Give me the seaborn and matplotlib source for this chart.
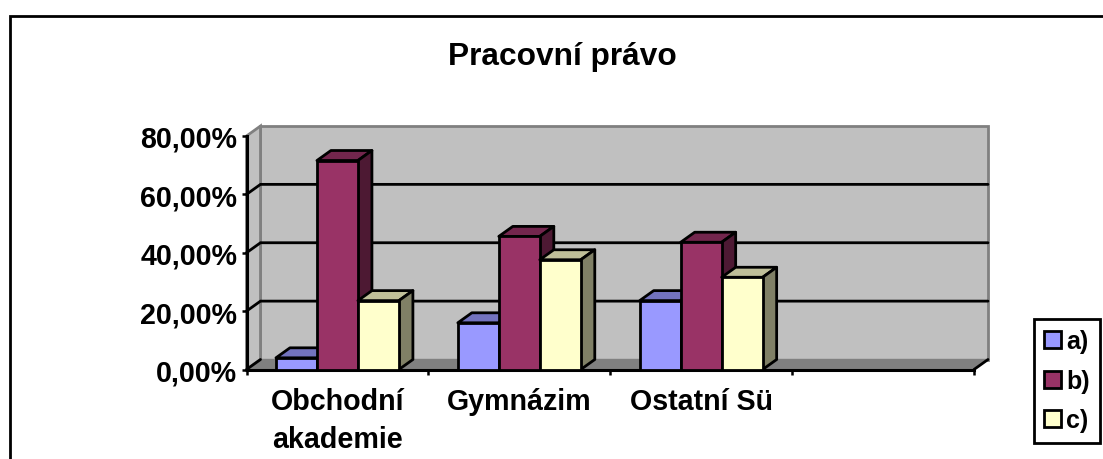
import matplotlib
matplotlib.use("Agg")
import matplotlib.pyplot as plt
from matplotlib.lines import Line2D
from matplotlib.patches import Polygon
import pandas as pd
import seaborn as sns

categories = ["Obchodní\nakademie", "Gymnázim", "Ostatní Sü", ""]
series = ["a)", "b)", "c)"]
values_a = [4.0, 16.0, 23.6, None]
values_b = [71.6, 45.6, 43.6, None]
values_c = [23.6, 37.6, 31.6, None]
colors = ["#9999FF", "#993366", "#FFFFCC"]
top_colors = ["#7373BF", "#73264D", "#BFBF99"]
side_colors = ["#4D4D80", "#4D1933", "#808066"]
y_ticks = [0, 20, 40, 60, 80]
y_labels = ["0,00%", "20,00%", "40,00%", "60,00%", "80,00%"]
title = "Pracovní právo"

W, H = 1103, 460
LW = 2.0
sns.set_theme(style="white")
plt.rcParams["font.family"] = ["Liberation Sans", "DejaVu Sans"]
plt.rcParams["font.weight"] = "bold"

rows = []
for s, vals in zip(series, [values_a, values_b, values_c]):
    for c, v in zip(categories, vals):
        rows.append({"cat": c, "series": s, "val": v})
df = pd.DataFrame(rows)

fig = plt.figure(figsize=(W / 100, H / 100), dpi=100, facecolor="white")
ax = fig.add_axes([246.5 / W, 1 - 370.5 / H, (974 - 246.5) / W, 233.5 / H])
ax.patch.set_alpha(0)

sns.barplot(data=df, x="cat", y="val", hue="series", order=categories, hue_order=series,
            palette=colors, width=0.676, gap=0, saturation=1, edgecolor="black",
            linewidth=LW, ax=ax, legend=True, errorbar=None)
ax.set_xlim(-0.5, 3.5)
ax.set_ylim(0, 80)
ax.set_xlabel("")
ax.set_ylabel("")

# depth of the 3D look, in data units
dx, dy = 14 / 182, 10 / 233.5 * 80
x0, x1 = -0.5, 3.5
y0, y1 = 0, 80

wall_edge = "#808080"
ax.add_patch(Polygon([(x0 + dx, y0 + dy), (x1 + dx, y0 + dy), (x1 + dx, y1 + dy), (x0 + dx, y1 + dy)],
                     fc="#C0C0C0", ec=wall_edge, lw=LW, clip_on=False, zorder=0.2))
ax.add_patch(Polygon([(x0, y0), (x0 + dx, y0 + dy), (x0 + dx, y1 + dy), (x0, y1)],
                     fc="#C0C0C0", ec=wall_edge, lw=LW, clip_on=False, zorder=0.3))
ax.add_patch(Polygon([(x0, y0), (x1, y0), (x1 + dx, y0 + dy), (x0 + dx, y0 + dy)],
                     fc="#808080", ec=wall_edge, lw=1, clip_on=False, zorder=0.3))
for t in y_ticks[1:-1]:
    ax.plot([x0, x0 + dx, x1 + dx], [t, t + dy, t + dy], color="black", lw=LW,
            clip_on=False, zorder=0.5, solid_joinstyle="miter")
ax.plot([x0, x0 + dx], [y0, y0 + dy], color="black", lw=LW, clip_on=False, zorder=0.5)
ax.plot([x1, x1 + dx], [y0, y0 + dy], color="black", lw=LW, clip_on=False, zorder=0.5)

# top and side faces of each bar, built from the bars seaborn placed
z = 2.0
bars = [(p, i) for i, cont in enumerate(ax.containers) for p in cont.patches]
bars = [b for b in bars if b[0].get_height() == b[0].get_height() and b[0].get_height() > 0]
bars.sort(key=lambda b: b[0].get_x())
for p, i in bars:
    l, w, h = p.get_x(), p.get_width(), p.get_height()
    r = l + w
    ax.add_patch(Polygon([(l, h), (r, h), (r + dx, h + dy), (l + dx, h + dy)], fc=top_colors[i],
                         ec="black", lw=LW, clip_on=False, zorder=z, joinstyle="round"))
    ax.add_patch(Polygon([(r, 0), (r + dx, dy), (r + dx, h + dy), (r, h)], fc=side_colors[i],
                         ec="black", lw=LW, clip_on=False, zorder=z, joinstyle="round"))
    p.set_zorder(z + 0.1)
    p.set_clip_on(False)
    z += 0.2

for s in ["top", "right"]:
    ax.spines[s].set_visible(False)
for s in ["left", "bottom"]:
    ax.spines[s].set_linewidth(2.2)
    ax.spines[s].set_color("black")
    ax.spines[s].set_zorder(1.5)

ax.set_yticks(y_ticks, labels=y_labels)
ax.set_xticks([-0.5, 0.5, 1.5, 2.5, 3.5], labels=[])
ax.set_xticks([0, 1, 2], labels=categories[:3], minor=True)
ax.tick_params(axis="y", which="major", left=True, length=3.6, width=1.8, color="black",
               labelsize=20.6, pad=3, labelcolor="black")
ax.tick_params(axis="x", which="major", bottom=True, length=3.6, width=1.8, color="black")
ax.tick_params(axis="x", which="minor", bottom=False, length=0, labelsize=20.6, pad=12.5, labelcolor="black")
for lab in ax.get_xticklabels(minor=True):
    lab.set_linespacing(1.45)

fig.text(562 / W, 1 - 57 / H, title, ha="center", va="center", fontsize=22.8, fontweight="bold", color="black")

# outer chart frame: left and top edges reach the picture border
frame_x = [9.5 / W, 9.5 / W, 1]
frame_y = [0, 1 - 16.5 / H, 1 - 16.5 / H]
fig.add_artist(Line2D(frame_x, frame_y, color="black", lw=2.0, transform=fig.transFigure, zorder=0,
                      solid_joinstyle="miter"))

leg = ax.legend(loc="upper left", bbox_to_anchor=(1033.5 / W, 1 - 320 / H), bbox_transform=fig.transFigure,
                title=None, frameon=True, fancybox=False, edgecolor="black", framealpha=1,
                borderaxespad=0, handlelength=0.68, handleheight=0.68, handletextpad=0.2,
                labelspacing=0.62, borderpad=0.42, labelcolor="black", prop={"weight": "bold", "size": 18})
leg.get_frame().set_linewidth(LW)
leg.set_zorder(10)
for h in leg.get_patches():
    h.set_edgecolor("black")
    h.set_linewidth(LW)

fig.savefig("out.png", dpi=100, facecolor="white")
